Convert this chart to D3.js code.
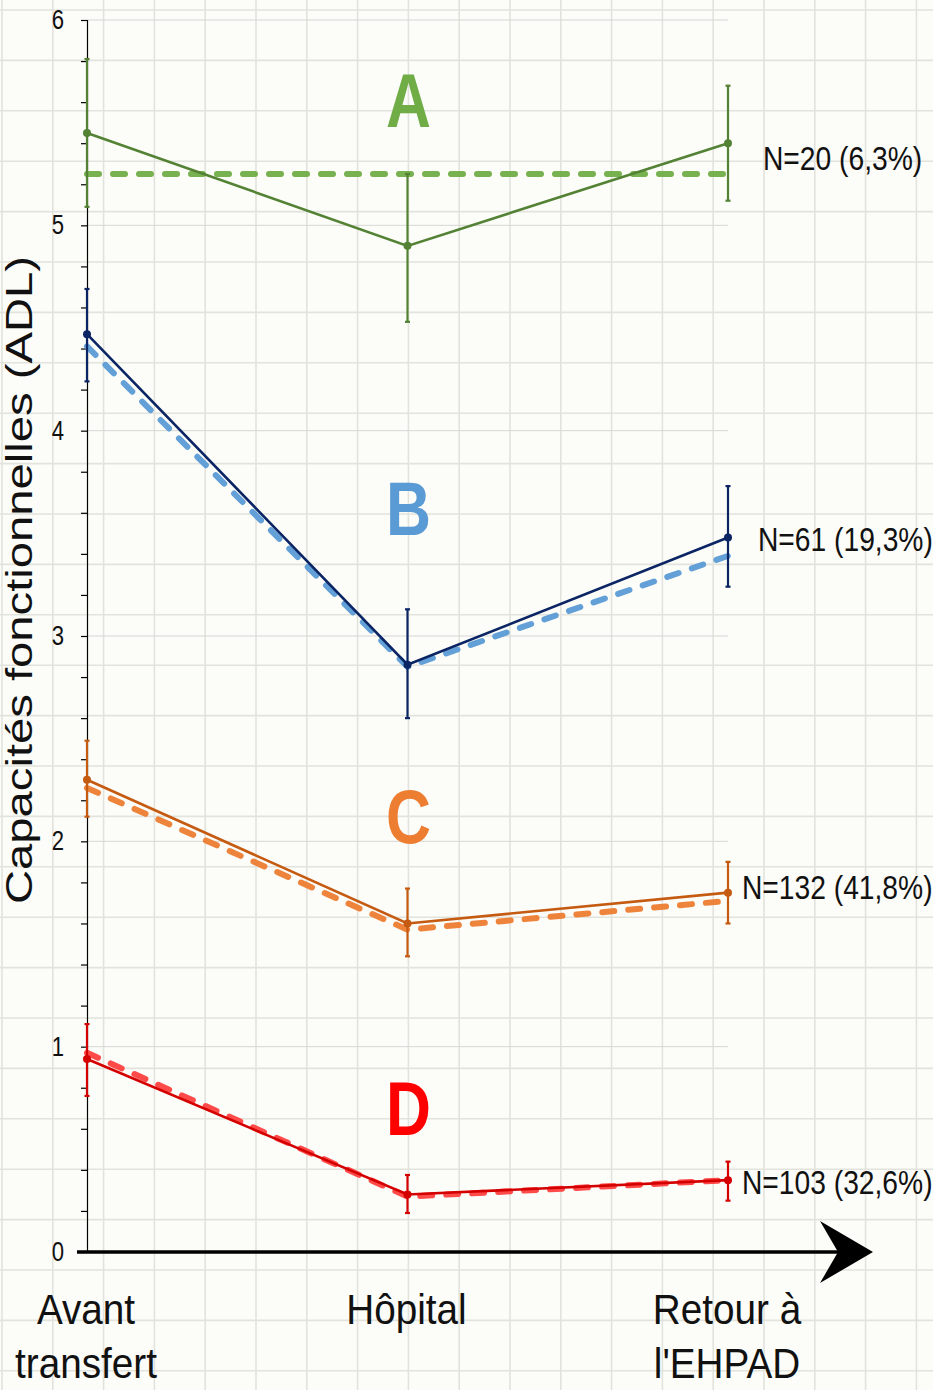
<!DOCTYPE html>
<html>
<head>
<meta charset="utf-8">
<script src="https://cdn.jsdelivr.net/npm/d3@7"></script>
<style>
  body { margin: 0; background: #fcfcf8; }
  svg { display: block; }
  .narrow { font-family: "Liberation Sans", Arial, sans-serif; }
</style>
</head>
<body>
<div id="chart"></div>
<script>
// ---- data ----
var stages = ["Avant transfert", "Hôpital", "Retour à l'EHPAD"];
var stageLines = [["Avant", "transfert"], ["Hôpital"], ["Retour à", "l'EHPAD"]];
var groups = ["A", "B", "C", "D"];
var nLabels = ["N=20 (6,3%)", "N=61 (19,3%)", "N=132 (41,8%)", "N=103 (32,6%)"];

var meanA = [5.45, 4.90, 5.40];
var lowA = [5.09, 4.53, 5.12];
var highA = [5.81, 5.25, 5.68];
var trendA = [5.25, 5.25, 5.25];

var meanB = [4.47, 2.86, 3.48];
var lowB = [4.24, 2.60, 3.24];
var highB = [4.69, 3.13, 3.73];
var trendB = [4.41, 2.85, 3.39];

var meanC = [2.30, 1.60, 1.75];
var lowC = [2.12, 1.44, 1.60];
var highC = [2.49, 1.77, 1.90];
var trendC = [2.26, 1.57, 1.71];

var meanD = [0.94, 0.28, 0.35];
var lowD = [0.76, 0.19, 0.25];
var highD = [1.11, 0.375, 0.44];
var trendD = [0.97, 0.27, 0.35];

var yTicks = [0, 1, 2, 3, 4, 5, 6];

// ---- layout ----
var width = 933, height = 1390;

var svg = d3.select("#chart").append("svg")
    .attr("width", width)
    .attr("height", height);

// no Arial Narrow here, so compress Liberation Sans horizontally
function narrow(sel, px, py, sq) {
    return sel.attr("class", "narrow")
        .attr("transform", `translate(${px},${py}) scale(${sq || 0.82},1)`);
}

// graph paper background
svg.append("rect").attr("width", width).attr("height", height).attr("fill", "#fcfcf8");
var paper = svg.append("g").attr("stroke", "#e3e3de").attr("stroke-width", 1.6);
paper.selectAll("line.v").data(d3.range(2, width, 50.8)).enter().append("line")
    .attr("x1", d => d).attr("x2", d => d).attr("y1", 0).attr("y2", height);
paper.selectAll("line.h").data(d3.range(10, height, 50.4)).enter().append("line")
    .attr("x1", 0).attr("x2", width).attr("y1", d => d).attr("y2", d => d);

var x = d3.scalePoint().domain(stages).range([87, 728]);
var y = d3.scaleLinear().domain([0, 6]).range([1252, 20]);

// horizontal gridlines
svg.append("g").selectAll("line").data(yTicks.slice(1)).enter().append("line")
    .attr("x1", 87).attr("x2", 728)
    .attr("y1", d => y(d)).attr("y2", d => y(d))
    .attr("stroke", "#d6d6d6").attr("stroke-width", 1);

// y axis
var yAxis = svg.append("g")
    .attr("transform", "translate(87,0)")
    .call(d3.axisLeft(y).tickValues(d3.range(0, 6.01, 0.2)).tickSize(6).tickFormat(""));
yAxis.select(".domain").attr("stroke", "#000").attr("stroke-width", 1.2);
yAxis.selectAll(".tick line").attr("stroke", "#000").attr("stroke-width", 1.2);

yTicks.forEach(function(d) {
    narrow(svg.append("text"), 58, y(d) + 9)
        .attr("text-anchor", "middle")
        .attr("font-size", 27)
        .attr("fill", "#111")
        .text(d);
});

// y title
svg.append("text")
    .attr("transform", "translate(32,580) rotate(-90)")
    .attr("text-anchor", "middle")
    .attr("font-family", "'Liberation Sans', Arial, sans-serif")
    .attr("font-size", 36)
    .attr("textLength", 648)
    .attr("lengthAdjust", "spacingAndGlyphs")
    .attr("fill", "#111")
    .text("Capacités fonctionnelles (ADL)");

// x axis with arrow
svg.append("line")
    .attr("x1", 77).attr("x2", 840).attr("y1", y(0)).attr("y2", y(0))
    .attr("stroke", "#000").attr("stroke-width", 3.5);
svg.append("path")
    .attr("d", `M873,${y(0)} L820,${y(0) - 31} L838,${y(0)} L820,${y(0) + 31} Z`)
    .attr("fill", "#000");

// x labels
stageLines.forEach(function(lines, i) {
    lines.forEach(function(l, j) {
        narrow(svg.append("text"), x(stages[i]) - 1, 1324 + j * 54, 0.9)
            .attr("text-anchor", "middle")
            .attr("font-size", 43)
            .attr("fill", "#111")
            .text(l);
    });
});

// ---- series ----
var series = [
    { mean: meanA, low: lowA, high: highA, trend: trendA, solid: "#548235", dash: "#70ad47", letter: "#70ad47", ly: 5.48, ny: 5.33, nx: 763 },
    { mean: meanB, low: lowB, high: highB, trend: trendB, solid: "#0a2464", dash: "#5b9bd5", letter: "#5b9bd5", ly: 3.49, ny: 3.47, nx: 758 },
    { mean: meanC, low: lowC, high: highC, trend: trendC, solid: "#c55a11", dash: "#ed7d31", letter: "#ed7d31", ly: 1.99, ny: 1.78, nx: 742 },
    { mean: meanD, low: lowD, high: highD, trend: trendD, solid: "#d40000", dash: "#ff4040", letter: "#ff0000", ly: 0.57, ny: 0.34, nx: 742 }
];

var line = d3.line().x((d, i) => x(stages[i])).y(d => y(d));

series.forEach(function(s, k) {
    var g = svg.append("g");

    // dashed trend
    g.append("path")
        .attr("d", line(s.trend))
        .attr("fill", "none")
        .attr("stroke", s.dash)
        .attr("stroke-width", 6)
        .attr("stroke-dasharray", "12,14")
        .attr("stroke-linecap", "round")
        .attr("opacity", 0.95);

    // error bars
    stages.forEach(function(st, i) {
        var cx = x(st);
        g.append("line")
            .attr("x1", cx).attr("x2", cx)
            .attr("y1", y(s.low[i])).attr("y2", y(s.high[i]))
            .attr("stroke", s.solid).attr("stroke-width", 2.2);
        [s.low[i], s.high[i]].forEach(function(v) {
            g.append("line")
                .attr("x1", cx - 2.5).attr("x2", cx + 2.5)
                .attr("y1", y(v)).attr("y2", y(v))
                .attr("stroke", s.solid).attr("stroke-width", 2.2);
        });
    });

    // solid mean line
    g.append("path")
        .attr("d", line(s.mean))
        .attr("fill", "none")
        .attr("stroke", s.solid)
        .attr("stroke-width", 2.6);

    g.selectAll("circle").data(s.mean).enter().append("circle")
        .attr("cx", (d, i) => x(stages[i]))
        .attr("cy", d => y(d))
        .attr("r", 4)
        .attr("fill", s.solid);

    // group letter
    narrow(g.append("text"), x(stages[1]) + 1, y(s.ly))
        .attr("text-anchor", "middle")
        .attr("font-size", 76)
        .attr("font-weight", "bold")
        .attr("fill", s.letter)
        .text(groups[k]);

    // N label
    narrow(g.append("text"), s.nx, y(s.ny) + 12, 0.83)
        .attr("font-size", 34)
        .attr("fill", "#111")
        .text(nLabels[k]);
});
</script>
</body>
</html>
